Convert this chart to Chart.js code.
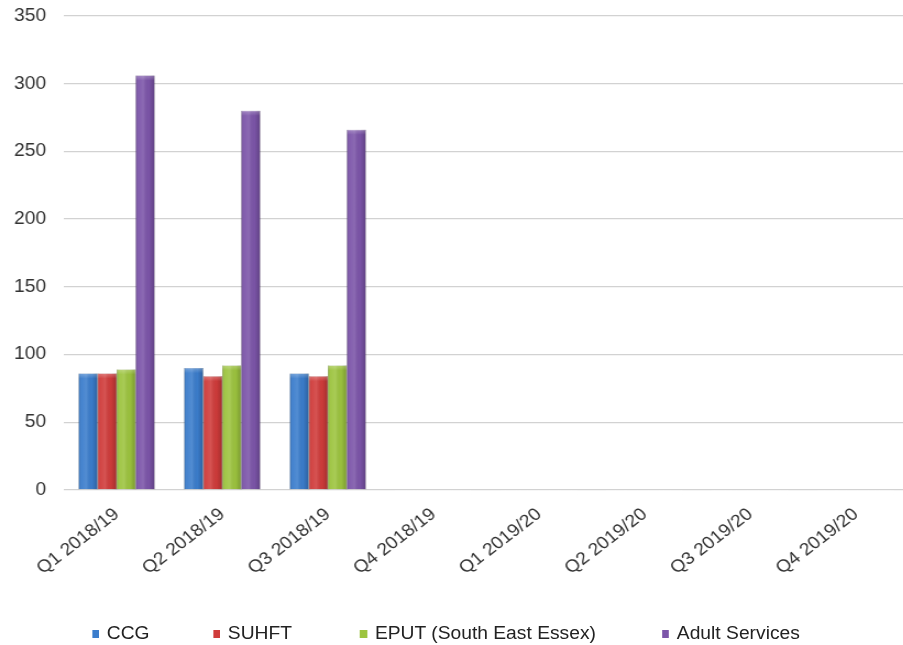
<!DOCTYPE html>
<html><head><meta charset="utf-8">
<script src="https://cdn.jsdelivr.net/npm/chart.js@4"></script>
<style>
html,body{margin:0;padding:0;background:#fff;overflow:hidden;}
#outer{position:relative;width:903px;height:645px;overflow:hidden;}
#wrap{position:absolute;left:0;top:0;width:826px;height:645px;transform:scaleX(1.1);transform-origin:0 0;}
#legend{position:absolute;left:0;top:623px;width:821px;height:20px;font-family:"Liberation Sans",Arial,sans-serif;font-size:17.5px;color:#222;}
#legend span.item{position:absolute;top:0;white-space:nowrap;line-height:20px;}
#legend span.box{display:inline-block;width:6.5px;height:8px;margin-right:7px;vertical-align:1px;}
</style></head>
<body><div id="outer"><div id="wrap"><canvas id="c" width="826" height="645"></canvas><div id="legend"></div></div></div>
<script>
const categories = ["Q1 2018/19","Q2 2018/19","Q3 2018/19","Q4 2018/19","Q1 2019/20","Q2 2019/20","Q3 2019/20","Q4 2019/20"];
const seriesNames = ["CCG","SUHFT","EPUT (South East Essex)","Adult Services"];
const ccg = [86, 90, 86, null, null, null, null, null];
const suhft = [86, 84, 84, null, null, null, null, null];
const eput = [89, 92, 92, null, null, null, null, null];
const adultServices = [306, 280, 266, null, null, null, null, null];
const yTicks = [0, 50, 100, 150, 200, 250, 300, 350];

const colors = ["#3b7dcc","#d03c3b","#9dc43f","#7c55a9"];
const borders = ["#2a5f9e","#a22a2a","#789a2c","#5b3d82"];
const legendX = [83.6, 193.6, 327.3, 601.8];
const FONT = '"Liberation Sans", Arial, sans-serif';

const shade = {
  id: 'shade',
  afterDatasetsDraw(chart) {
    const ctx = chart.ctx;
    chart.data.datasets.forEach((d, i) => {
      chart.getDatasetMeta(i).data.forEach(el => {
        if (el.skip || el.y == null || isNaN(el.y)) return;
        const p = el.getProps(['x','y','base','width'], true);
        const l = p.x - p.width / 2;
        const g = ctx.createLinearGradient(l, 0, l + p.width, 0);
        g.addColorStop(0, 'rgba(0,0,0,0.18)');
        g.addColorStop(0.15, 'rgba(255,255,255,0.05)');
        g.addColorStop(0.4, 'rgba(255,255,255,0.12)');
        g.addColorStop(0.7, 'rgba(0,0,0,0.02)');
        g.addColorStop(1, 'rgba(0,0,0,0.22)');
        ctx.save();
        ctx.fillStyle = g;
        ctx.fillRect(l, p.y, p.width, p.base - p.y);
        const t = ctx.createLinearGradient(0, p.y, 0, p.y + 5);
        t.addColorStop(0, 'rgba(255,255,255,0.25)');
        t.addColorStop(1, 'rgba(255,255,255,0)');
        ctx.fillStyle = t;
        ctx.fillRect(l, p.y, p.width, 5);
        ctx.restore();
      });
    });
  }
};

const ds = [ccg, suhft, eput, adultServices].map((d,i)=>({
  label: seriesNames[i], data: d,
  backgroundColor: colors[i], borderColor: borders[i], borderWidth: {left:0.5,right:0.5,top:0.5,bottom:0},
  categoryPercentage: 0.72, barPercentage: 1.0
}));

new Chart(document.getElementById('c'), {
  type: 'bar',
  data: { labels: categories, datasets: ds },
  plugins: [shade],
  options: {
    responsive: false, animation: false, devicePixelRatio: 1,
    layout: { padding: { top: 16, right: 0, bottom: 26, left: 0 } },
    plugins: { legend: { display: false }, tooltip: { enabled: false } },
    scales: {
      x: {
        grid: { display: false, drawTicks: false },
        border: { display: false },
        ticks: { minRotation: 40, maxRotation: 40, color: '#333', font: { family: FONT, size: 17.5 }, padding: 14 },
        afterFit: s => { s.height = 129; s.paddingLeft = 0; s.paddingRight = 0; }
      },
      y: {
        min: 0, max: 350,
        afterBuildTicks: s => { s.ticks = yTicks.map(v => ({ value: v })); },
        grid: { color: '#d2d2d2', lineWidth: 1.3, drawTicks: false },
        border: { display: false },
        ticks: { color: '#333', font: { family: FONT, size: 17.5 }, padding: 16 },
        afterFit: s => { s.width = 58; s.paddingTop = 0; s.paddingBottom = 0; }
      }
    }
  }
});

const lg = document.getElementById('legend');
seriesNames.forEach((n,i)=>{
  const it = document.createElement('span'); it.className='item'; it.style.left = legendX[i]+'px';
  const b = document.createElement('span'); b.className='box'; b.style.background = colors[i];
  it.appendChild(b); it.appendChild(document.createTextNode(n)); lg.appendChild(it);
});
</script></body></html>
